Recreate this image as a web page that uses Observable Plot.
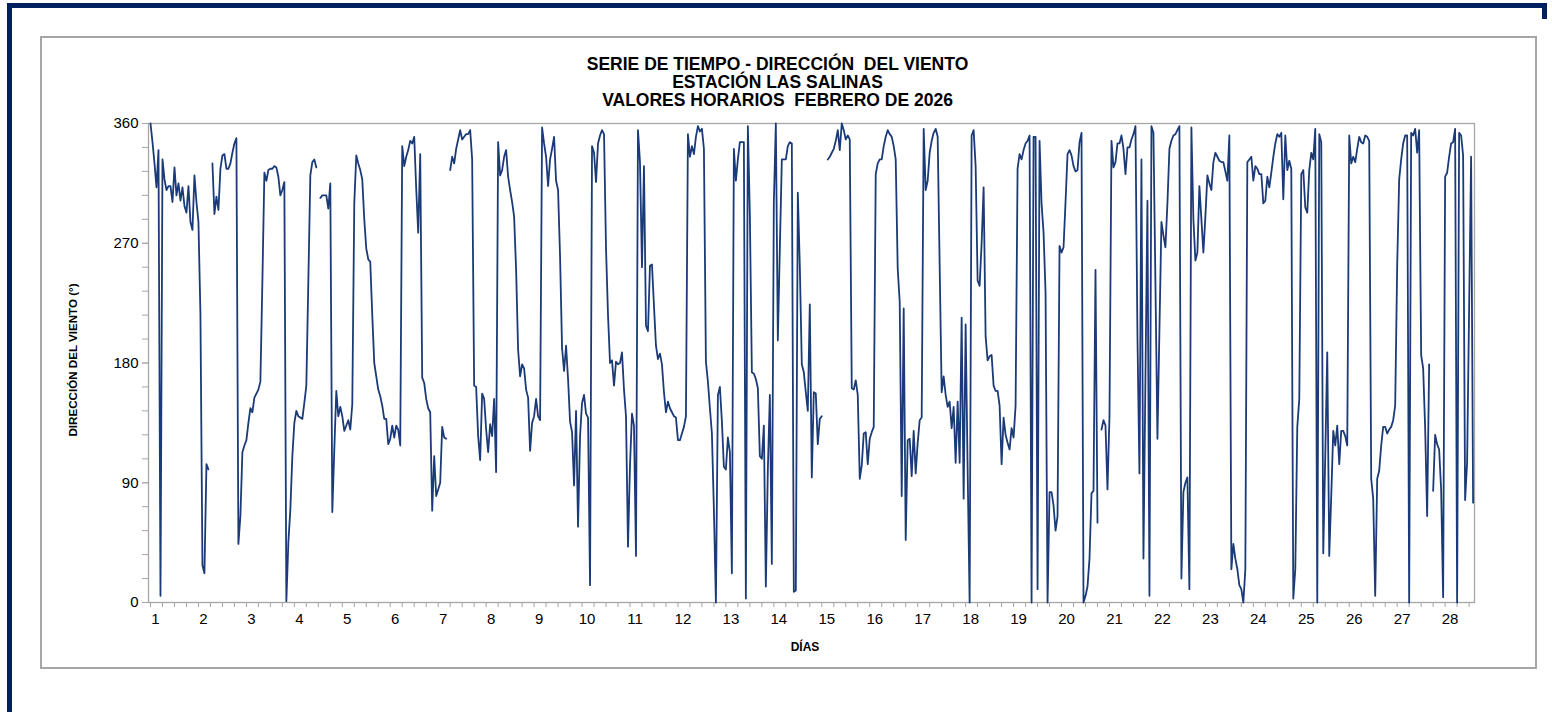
<!DOCTYPE html>
<html><head><meta charset="utf-8">
<script src="https://cdn.jsdelivr.net/npm/d3@7"></script>
<script src="https://cdn.jsdelivr.net/npm/@observablehq/plot@0.6"></script>
<style>
body{margin:0;background:#fff;font-family:"Liberation Sans",Arial,sans-serif;}
#page{position:relative;width:1552px;height:712px;overflow:hidden;background:#fff;}
#navyTop{position:absolute;left:7px;top:3px;width:1540px;height:5px;background:#002060;}
#navyLeft{position:absolute;left:7px;top:3px;width:5px;height:709px;background:#002060;}
#navyRight{position:absolute;left:1542px;top:3px;width:5px;height:16px;background:#002060;}
#box{position:absolute;left:40px;top:36px;width:1497px;height:633px;border:2px solid #a6a6a6;box-sizing:border-box;}
#chart{position:absolute;left:41px;top:37px;}
#title{position:absolute;left:0px;top:55px;width:1555px;text-align:center;font-weight:bold;font-size:17.5px;line-height:18px;color:#000;white-space:pre;}
#ylab{position:absolute;left:72px;top:360px;transform:translate(-50%,-50%) rotate(-90deg);font-weight:bold;font-size:11.6px;white-space:nowrap;color:#000;}
#xlab{position:absolute;left:805px;top:647px;transform:translate(-50%,-50%);font-weight:bold;font-size:12px;color:#000;}
</style></head>
<body>
<div id="page">
  <div id="navyTop"></div>
  <div id="navyLeft"></div>
  <div id="navyRight"></div>
  <div id="box"></div>
  <div id="chart"></div>
  <div id="title">SERIE DE TIEMPO - DIRECCIÓN  DEL VIENTO
ESTACIÓN LAS SALINAS
VALORES HORARIOS  FEBRERO DE 2026</div>
  <div id="ylab">DIRECCIÓN DEL VIENTO (°)</div>
  <div id="xlab">DÍAS</div>
</div>
<script>
// Hourly wind direction (degrees), one array per day; null = missing hour
const dia01 = [360,346,330,312,340,5,333,318,310,313,313,301,327,306,315,302,312,298,293,313,286,280,321,301];
const dia02 = [286,216,28,22,104,100,null,330,292,305,295,326,336,337,326,326,330,338,345,349,44,65,113,118];
const dia03 = [122,135,146,143,154,157,160,166,241,323,317,325,326,326,328,327,320,306,310,316,1,45,70,110];
const dia04 = [135,144,140,139,138,150,163,241,321,331,333,327,null,304,306,306,306,296,315,68,115,159,140,147];
const dia05 = [140,129,133,137,130,149,300,336,330,325,318,288,266,258,256,216,180,170,160,155,148,138,138,119];
const dia06 = [123,133,124,133,130,118,343,328,335,340,347,345,350,311,278,337,169,165,153,146,143,69,110,80];
const dia07 = [85,90,132,124,123,null,325,335,330,341,348,355,348,350,352,352,355,333,163,162,125,107,157,153];
const dia08 = [130,113,134,125,153,98,346,321,325,335,340,320,310,301,290,250,190,170,179,176,160,154,114,135];
const dia09 = [140,153,140,137,357,345,335,313,333,341,350,317,310,260,191,174,193,168,136,128,88,144,57,125];
const dia10 = [150,156,142,139,13,343,338,316,345,351,355,352,266,216,180,182,163,181,179,180,188,160,140,42];
const dia11 = [103,142,133,35,355,331,252,328,208,204,253,254,223,193,183,187,179,158,143,151,146,143,140,139];
const dia12 = [122,122,127,132,140,352,335,343,337,350,358,354,356,341,181,166,146,127,70,0,156,162,136,102];
const dia13 = [100,124,113,22,341,317,333,346,346,346,3,358,291,173,172,168,161,110,108,133,12,100,156,29];
const dia14 = [301,360,197,266,333,333,333,343,346,345,8,9,308,253,179,173,158,144,224,94,158,157,119,138];
const dia15 = [140,null,null,333,335,338,341,347,355,340,360,355,348,351,348,161,160,167,156,93,103,127,128,104];
const dia16 = [123,128,132,322,330,333,333,343,350,355,352,350,343,333,251,226,80,221,47,122,123,95,129,97];
const dia17 = [120,137,139,356,310,317,338,347,353,356,350,253,158,170,156,147,151,131,147,105,151,105,214,78];
const dia18 = [209,100,0,351,355,328,242,238,270,312,200,182,185,186,163,159,159,148,104,139,126,120,115,131];
const dia19 = [124,148,326,337,333,340,345,347,351,0,350,350,10,347,300,278,233,0,83,83,73,54,65,268];
const dia20 = [263,267,301,337,340,336,328,324,325,346,353,0,5,12,33,82,84,250,60,null,130,137,133,85];
const dia21 = [140,347,327,331,345,345,351,341,322,342,342,348,352,358,200,97,333,33,170,302,5,358,353,240];
const dia22 = [123,205,286,276,267,300,341,347,351,352,355,358,18,83,90,94,10,357,288,257,263,313,288,263];
const dia23 = [290,321,315,310,331,338,335,332,331,331,324,317,351,25,44,33,25,13,10,0,25,331,333,335];
const dia24 = [317,328,326,322,322,300,302,320,312,323,335,345,352,350,353,303,351,325,332,326,3,25,132,153];
const dia25 = [322,325,297,293,325,338,333,356,0,352,346,37,110,188,35,80,129,118,133,104,129,129,125,118];
const dia26 = [351,330,335,331,341,350,346,345,351,350,347,93,78,5,93,99,118,132,132,127,130,132,137,148];
const dia27 = [253,318,333,345,351,351,0,353,351,356,338,355,186,176,131,65,179,null,84,126,119,115,85,4];
const dia28 = [320,323,335,345,346,356,0,353,351,336,77,105,220,335,75];

const dias = [dia01,dia02,dia03,dia04,dia05,dia06,dia07,dia08,dia09,dia10,dia11,dia12,dia13,dia14,
              dia15,dia16,dia17,dia18,dia19,dia20,dia21,dia22,dia23,dia24,dia25,dia26,dia27,dia28];
const dayLabels = d3.range(1, 29).map(String);
const yLabelTicks = [0, 90, 180, 270, 360];

const rows = [];
dias.forEach((arr, d) => arr.forEach((v, h) => rows.push({hora: d * 24 + h, dir: v})));
const labelPos = dayLabels.map((_, k) => 2.5 + 24 * k);

const chart = Plot.plot({
  width: 1495, height: 631,
  marginLeft: 107, marginRight: 62, marginTop: 86, marginBottom: 66,
  style: {fontFamily: "'Liberation Sans', Arial, sans-serif", fontSize: "15px", color: "#000", background: "transparent"},
  x: {domain: [-1, 662.7], axis: null},
  y: {domain: [0, 360], axis: null},
  marks: [
    Plot.frame({stroke: "#a6a6a6", strokeWidth: 1.3}),
    Plot.axisY({ticks: d3.range(0, 361, 18), tickSize: 6, tickFormat: () => "", stroke: "#a6a6a6", label: null}),
    Plot.axisY({ticks: yLabelTicks, tickSize: 6, tickPadding: 4, stroke: "#a6a6a6", fill: "#000", label: null, fontSize: 15}),
    Plot.axisX({ticks: d3.range(0, 663, 6), tickSize: 5, tickFormat: () => "", stroke: "#a6a6a6", label: null}),
    Plot.axisX({ticks: labelPos, tickSize: 0, tickPadding: 11, tickFormat: (t) => dayLabels[Math.round((t - 2.5) / 24)], fill: "#000", label: null, fontSize: 15}),
    Plot.lineY(rows, {x: "hora", y: "dir", stroke: "#1b3a78", strokeWidth: 1.8})
  ]
});
document.getElementById("chart").appendChild(chart);
</script>
</body></html>
